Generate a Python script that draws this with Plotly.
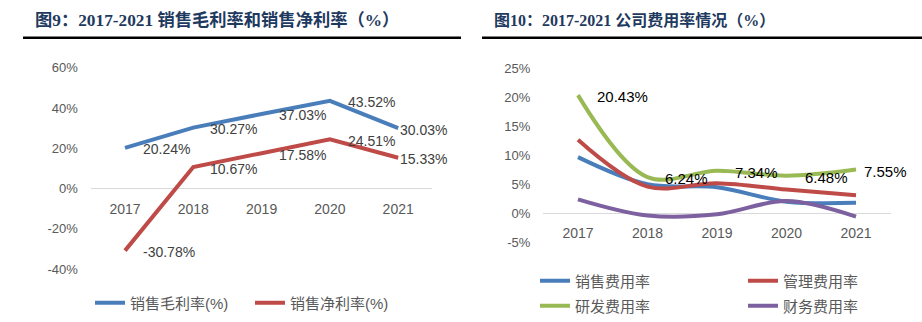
import plotly.graph_objects as go

# ---------------- data ----------------
years = ["2017", "2018", "2019", "2020", "2021"]

gross_margin = [20.24, 30.27, 37.03, 43.52, 30.03]      # 销售毛利率(%)
net_margin = [-30.78, 10.67, 17.58, 24.51, 15.33]       # 销售净利率(%)

sales_exp = [9.7, 5.0, 4.5, 2.0, 1.8]                   # 销售费用率
admin_exp = [12.7, 4.6, 5.2, 4.1, 3.1]                  # 管理费用率
rd_exp = [20.43, 6.24, 7.34, 6.48, 7.55]                # 研发费用率
fin_exp = [2.4, -0.4, -0.2, 2.1, -0.6]                  # 财务费用率

left_yticks = [-40, -20, 0, 20, 40, 60]
left_yticklabels = ["-40%", "-20%", "0%", "20%", "40%", "60%"]
right_yticks = [-5, 0, 5, 10, 15, 20, 25]
right_yticklabels = ["-5%", "0%", "5%", "10%", "15%", "20%", "25%"]

title_left = "图9：2017-2021 销售毛利率和销售净利率（%）"
title_right = "图10：2017-2021 公司费用率情况（%）"

# ---------------- style ----------------
W, H = 922, 322
SANS = "Liberation Sans, Noto Sans CJK SC, sans-serif"
SERIF = "Liberation Serif, Noto Sans CJK SC, serif"
BLUE, RED, GREEN, PURPLE = "#4a7ebb", "#be4b48", "#98b954", "#7d60a0"
AXIS_TXT = "#595959"

def py(px):  # pixel y -> paper y
    return 1 - px / H

def pxx(px):
    return px / W

fig = go.Figure()

def add_line(y, name, color, xa, ya, legend, spline):
    line = dict(color=color, width=4)
    if spline:
        line.update(shape="spline", smoothing=1.0)
    fig.add_trace(go.Scatter(x=years, y=y, mode="lines", name=name, line=line,
                             xaxis=xa, yaxis=ya, legend=legend))

add_line(gross_margin, "销售毛利率(%)", BLUE, "x", "y", "legend", False)
add_line(net_margin, "销售净利率(%)", RED, "x", "y", "legend2", False)
add_line(sales_exp, "销售费用率", BLUE, "x2", "y2", "legend3", True)
add_line(admin_exp, "管理费用率", RED, "x2", "y2", "legend4", True)
add_line(rd_exp, "研发费用率", GREEN, "x2", "y2", "legend5", True)
add_line(fin_exp, "财务费用率", PURPLE, "x2", "y2", "legend6", True)

annotations = []
# data labels left
left_xshift = [16, 15, 15, 16, 0]
for series in (gross_margin, net_margin):
    for i, v in enumerate(series):
        annotations.append(dict(x=i, y=v, xref="x", yref="y", text=f"{v:.2f}%",
                                showarrow=False, xanchor="left", yanchor="middle",
                                xshift=left_xshift[i], yshift=-1.5,
                                font=dict(family=SANS, size=14, color="#404040")))
# data labels right (研发费用率)
right_xshift = [17, 15, 16, 16, 6]
for i, v in enumerate(rd_exp):
    annotations.append(dict(x=i, y=v, xref="x2", yref="y2", text=f"{v:.2f}%",
                            showarrow=False, xanchor="left", yanchor="middle",
                            xshift=right_xshift[i], yshift=-1.5,
                            font=dict(family=SANS, size=15, color="#000000")))
# titles
annotations.append(dict(x=pxx(33), y=py(20), xref="paper", yref="paper", text=f"<b>{title_left}</b>",
                        showarrow=False, xanchor="left", yanchor="middle",
                        font=dict(family=SERIF, size=17.3, color="#1f3a60")))
annotations.append(dict(x=pxx(492), y=py(20), xref="paper", yref="paper", text=f"<b>{title_right}</b>",
                        showarrow=False, xanchor="left", yanchor="middle",
                        font=dict(family=SERIF, size=16, color="#1f3a60")))

shapes = [
    dict(type="line", xref="paper", yref="paper", x0=pxx(23), x1=pxx(461), y0=py(37.7), y1=py(37.7),
         line=dict(color="#000000", width=2.5)),
    dict(type="line", xref="paper", yref="paper", x0=pxx(482), x1=pxx(922), y0=py(37.7), y1=py(37.7),
         line=dict(color="#000000", width=2.5)),
]

xcommon = dict(type="category", range=[-0.5, 4.5], showgrid=False, showline=False, ticks="",
               zeroline=False, anchor="free", ticklabelstandoff=10,
               tickfont=dict(family=SANS, size=14, color=AXIS_TXT))
ycommon = dict(showgrid=False, showline=False, ticks="", zeroline=True, zerolinecolor="#d9d9d9",
               zerolinewidth=1, ticklabelstandoff=12,
               tickfont=dict(family=SANS, size=13, color=AXIS_TXT))

def leg(xpx, ypx):
    return dict(orientation="h", xanchor="left", yanchor="middle", bgcolor="rgba(0,0,0,0)",
                font=dict(family=SANS, size=15, color=AXIS_TXT), itemclick=False,
                x=pxx(xpx), y=py(ypx))

fig.update_layout(
    width=W, height=H, margin=dict(l=0, r=0, t=0, b=0, autoexpand=False),
    paper_bgcolor="white", plot_bgcolor="white",
    xaxis=dict(**xcommon, domain=[pxx(90.85), pxx(432.35)], position=py(188.6)),
    yaxis=dict(**ycommon, domain=[py(269.2), py(67.7)], range=[-40, 60],
               tickmode="array", tickvals=left_yticks, ticktext=left_yticklabels, anchor="x"),
    xaxis2=dict(**xcommon, domain=[pxx(543.25), pxx(890.75)], position=py(213.2)),
    yaxis2=dict(**ycommon, domain=[py(242.1), py(68.7)], range=[-5, 25],
                tickmode="array", tickvals=right_yticks, ticktext=right_yticklabels, anchor="x2"),
    legend=leg(90, 303),
    legend2=leg(250, 303),
    legend3=leg(535, 281),
    legend4=leg(743, 281),
    legend5=leg(535, 306),
    legend6=leg(743, 306),
    annotations=annotations, shapes=shapes,
    showlegend=True,
)

fig.write_html("out.html", config={"responsive": False})
